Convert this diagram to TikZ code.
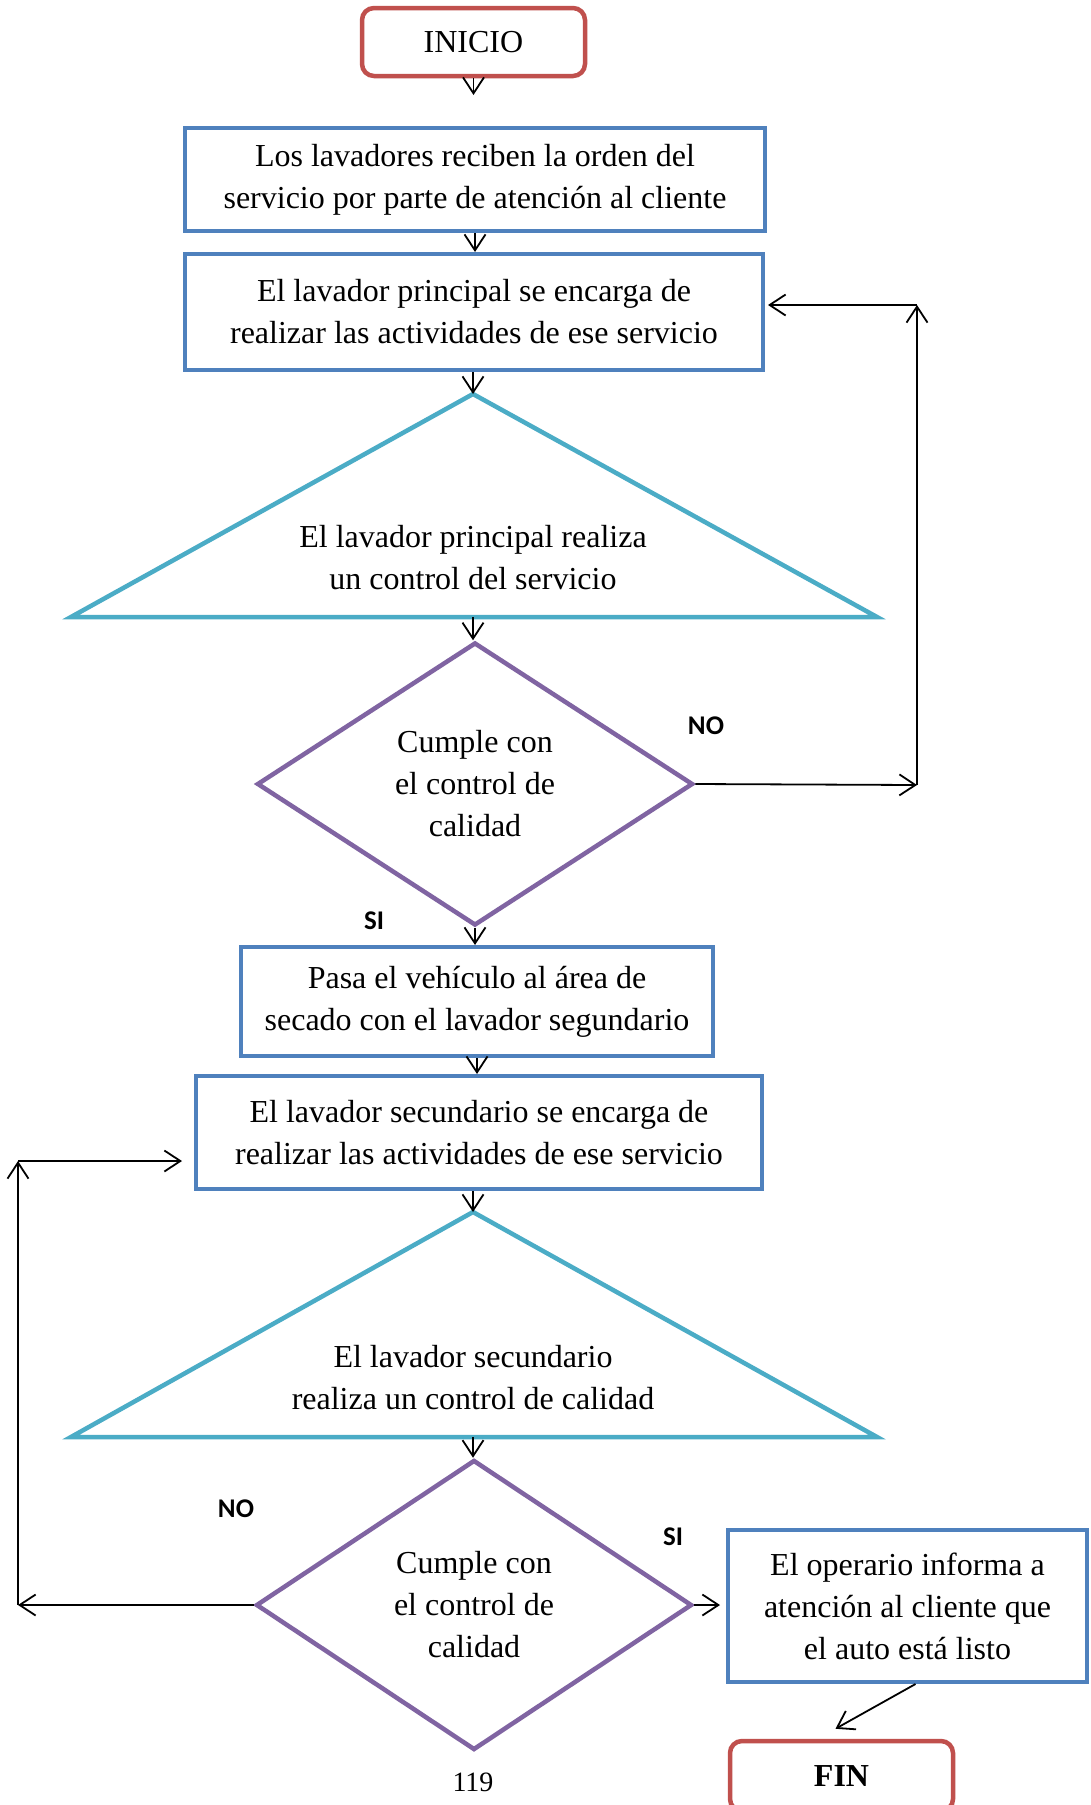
\documentclass[tikz,border=0pt]{standalone}
\usepackage{fontspec}
\setmainfont{Liberation Serif}
\newfontfamily\lblfont{Carlito}
\usetikzlibrary{arrows.meta,shapes.geometric}
\definecolor{boxblue}{HTML}{4F81BD}
\definecolor{termred}{HTML}{C0504D}
\definecolor{tricyan}{HTML}{4BACC6}
\definecolor{diapurple}{HTML}{8064A2}
\tikzset{
  txt/.style={align=center,font=\fontsize{32}{42}\selectfont,text=black},
  box/.style={txt,draw=boxblue,line width=4pt,fill=white,inner sep=0pt},
  term/.style={box,draw=termred,line width=4.5pt,rounded corners=12pt},
  tri/.style={draw=tricyan,line width=4.5pt},
  dia/.style={txt,diamond,draw=diapurple,line width=4.5pt,inner sep=0pt,shape aspect=1.54},
  ar/.style={-{Straight Barb[length=16pt,width=21pt]},draw=black,line width=1.8pt},
  lbl/.style={font=\lblfont\bfseries\fontsize{27}{30}\selectfont,text=black},
}
\begin{document}
\begin{tikzpicture}[x=1pt,y=-1pt]
  \fill[white] (0,0) rectangle (1090,1805);
  \useasboundingbox (0,0) rectangle (1090,1805);
  \clip (0,0) rectangle (1090,1805);
  % ── principal washer ──
  \node[term,minimum width=223pt,minimum height=68pt] (inicio) at (473.5,42) {INICIO};
  \node[box,minimum width=580pt,minimum height=103pt] (recibe) at (475,179.5) {Los lavadores reciben la orden del\\servicio por parte de atención al cliente};
  \node[box,minimum width=578pt,minimum height=116pt] (lavp) at (474,312) {El lavador principal se encarga de\\realizar las actividades de ese servicio};
  \coordinate (t1top) at (473,394); \coordinate (t1bot) at (473,617);
  \draw[tri] (t1top) -- (877,617) -- (71,617) -- cycle;
  \node[txt] (ctlp) at (473,558) {El lavador principal realiza\\un control del servicio};
  \node[dia,minimum width=436pt,minimum height=283pt] (cum1) at (475,784) {Cumple con\\el control de\\calidad};
  \coordinate (c1) at (917,785); \coordinate (c2) at (917,305);
  \node[lbl] (no1) at (706,726) {NO};
  \node[lbl] (si1) at (374,921) {SI};
  % ── secondary washer ──
  \node[box,minimum width=472pt,minimum height=109pt] (pasa) at (477,1001.5) {Pasa el vehículo al área de\\secado con el lavador segundario};
  \node[box,minimum width=566pt,minimum height=113pt] (lavs) at (479,1132.5) {El lavador secundario se encarga de\\realizar las actividades de ese servicio};
  \coordinate (t2top) at (473,1212); \coordinate (t2bot) at (473,1437);
  \draw[tri] (t2top) -- (877,1437) -- (71,1437) -- cycle;
  \node[txt] (ctls) at (473,1378) {El lavador secundario\\realiza un control de calidad};
  \node[dia,minimum width=436pt,minimum height=290pt] (cum2) at (474,1605) {Cumple con\\el control de\\calidad};
  \coordinate (c3) at (18,1605); \coordinate (c4) at (18,1161);
  \node[lbl] (no2) at (236,1509) {NO};
  \node[lbl] (si2) at (673,1537) {SI};
  \node[box,minimum width=359pt,minimum height=152pt] (informa) at (907.5,1606) {El operario informa a\\atención al cliente que\\el auto está listo};
  \node[term,minimum width=223pt,minimum height=70pt,font=\fontsize{32}{42}\selectfont\bfseries] (fin) at (841.5,1776) {FIN};
  \node[txt,font=\fontsize{28}{34}\selectfont] (pag) at (473,1782) {119};
  % ── connectors ──
  \draw[ar,shorten >=31pt] (inicio.south) -- (inicio.south |- recibe.north);
  \draw[ar] (recibe.south) -- (recibe.south |- lavp.north);
  \draw[ar] (t1top |- lavp.south) -- (t1top);
  \draw[ar] (t1bot) -- (t1bot |- cum1.north);
  \draw[ar] (cum1.east) -- (c1);
  \draw[ar] (c1) -- (c2);
  \draw[ar,shorten >=3pt] (c2) -- (c2 -| lavp.east);
  \draw[ar] (cum1.south) -- (cum1.south |- pasa.north);
  \draw[ar] (pasa.south) -- (pasa.south |- lavs.north);
  \draw[ar] (t2top |- lavs.south) -- (t2top);
  \draw[ar] (t2bot) -- (t2bot |- cum2.north);
  \draw[ar] (cum2.west) -- (c3);
  \draw[ar] (c3) -- (c4);
  \draw[ar,shorten >=12pt] (c4) -- (c4 -| lavs.west);
  \draw[ar,shorten >=6pt] (cum2.east) -- (cum2.east -| informa.west);
  \draw[ar] ([xshift=8pt]informa.south) -- ([xshift=-6pt,yshift=10pt]fin.north);
\end{tikzpicture}
\end{document}
